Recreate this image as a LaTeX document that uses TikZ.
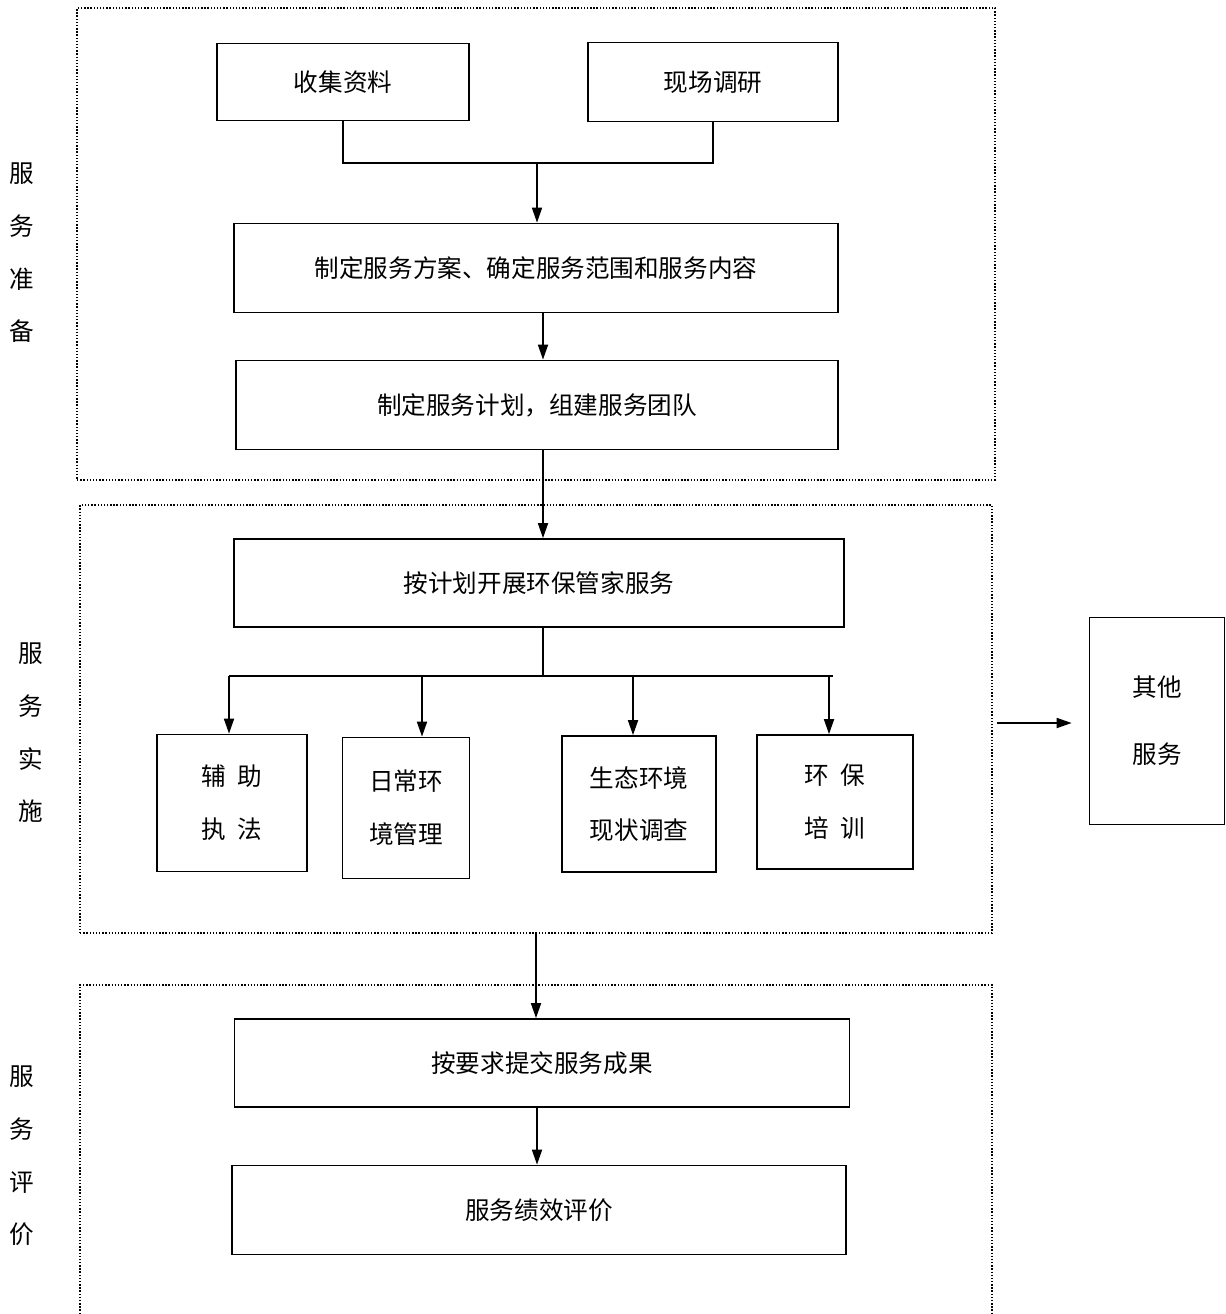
\documentclass[tikz,border=0pt]{standalone}
\usepackage{fontspec}
\setmainfont{Noto Sans CJK SC}
\usetikzlibrary{arrows.meta}
\tikzstyle{process} = [rectangle, line width=1pt, draw=black, text centered, inner sep=0pt, font=\fontsize{14pt}{17pt}\selectfont]
\tikzstyle{twoline} = [process, align=center, font=\fontsize{14pt}{30pt}\selectfont]
\tikzstyle{stage} = [rectangle, draw=black, densely dotted, line width=0.8pt, inner sep=0pt]
\tikzstyle{side} = [align=center, inner sep=0pt, font=\fontsize{14pt}{30pt}\selectfont]
\tikzstyle{line} = [line width=1pt]
\tikzstyle{arrow} = [line width=1pt, -{Triangle[length=3mm, width=2mm]}]

\begin{document}
\begin{tikzpicture}[x=0.02cm, y=-0.02cm]
\useasboundingbox (0,0) rectangle (1226,1314);

% stages
\node (frame1) [stage, minimum width=18.36cm, minimum height=9.44cm] at (536,244) {};
\node (frame2) [stage, minimum width=18.24cm, minimum height=8.56cm] at (536,719) {};
\draw [densely dotted, line width=0.8pt] (80,1314) -- (80,985) -- (992,985) -- (992,1314);

\node (prepare) [side] at (22,253) {服\\务\\准\\备};
\node (perform) [side] at (31,733) {服\\务\\实\\施};
\node (evaluate) [side] at (22,1156) {服\\务\\评\\价};

% preparation
\node (collect) [process, minimum width=5.04cm, minimum height=1.54cm] at (343,82) {收集资料};
\node (survey) [process, minimum width=5cm, minimum height=1.58cm] at (713,82) {现场调研};
\node (scheme) [process, minimum width=12.08cm, minimum height=1.78cm] at (536,268) {制定服务方案、确定服务范围和服务内容};
\node (plan) [process, minimum width=12.04cm, minimum height=1.78cm] at (537,405) {制定服务计划，组建服务团队};

% implementation
\node (run) [process, minimum width=12.2cm, minimum height=1.76cm] at (539,583) {按计划开展环保管家服务};
\node (assist) [twoline, minimum width=3cm, minimum height=2.74cm] at (232,803) {辅\ \ 助\\执\ \ 法};
\node (daily) [twoline, minimum width=2.54cm, minimum height=2.82cm] at (406,808) {日常环\\境管理};
\node (eco) [twoline, minimum width=3.08cm, minimum height=2.72cm] at (639,804) {生态环境\\现状调查};
\node (train) [twoline, minimum width=3.12cm, minimum height=2.68cm] at (835,802) {环\ \ 保\\培\ \ 训};
\node (other) [process, align=center, font=\fontsize{14pt}{38pt}\selectfont, minimum width=2.7cm, minimum height=4.14cm] at (1157,721) {其他\\服务};

% evaluation
\node (submit) [process, minimum width=12.3cm, minimum height=1.76cm] at (542,1063) {按要求提交服务成果};
\node (assess) [process, minimum width=12.28cm, minimum height=1.78cm] at (539,1210) {服务绩效评价};

\coordinate (join) at (537,163);
\coordinate (barL) at (229,676);
\coordinate (barR) at (833,676);
\coordinate (out) at (997,723);

\draw [line] (collect.south) |- (join) -| (survey.south);
\draw [arrow] (join) -- (join |- scheme.north);
\draw [arrow] ([xshift=0.14cm]scheme.south) -- ([xshift=0.14cm]scheme.south |- plan.north);
\draw [arrow] ([xshift=0.12cm]plan.south) -- ([xshift=0.12cm]plan.south |- run.north);

\draw [line] ([xshift=0.08cm]run.south) -- ([xshift=0.08cm]run.south |- barL);
\draw [line] (barL) -- (barR);
\foreach \x/\n in {229/assist, 422/daily, 633/eco, 829/train}
  \draw [arrow] (\x,676) -- (\n.north -| \x,0);
\draw [arrow, shorten >=0.34cm] (out) -- (out -| other.west);

\draw [arrow] (frame2.south) -- (frame2.south |- submit.north);
\draw [arrow] ([xshift=-0.1cm]submit.south) -- ([xshift=-0.1cm]submit.south |- assess.north);

\end{tikzpicture}
\end{document}
